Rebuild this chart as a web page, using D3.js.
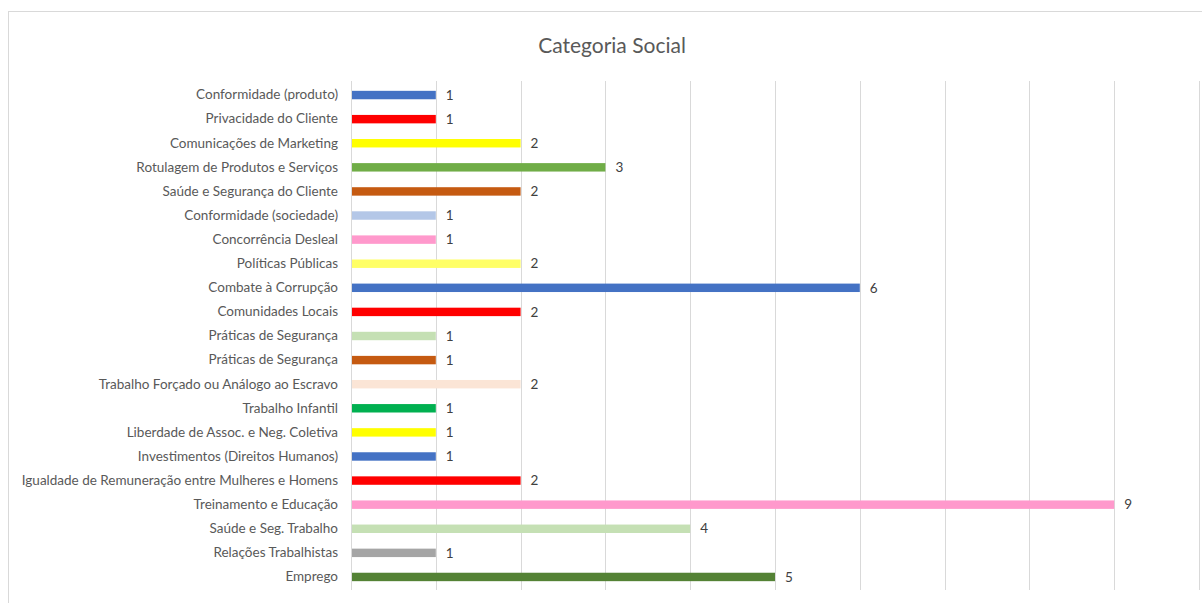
<!DOCTYPE html>
<html>
<head>
<meta charset="utf-8">
<script src="https://cdn.jsdelivr.net/npm/d3@7"></script>
<style>
  html, body { margin: 0; padding: 0; background: #fff; }
  svg { display: block; }
  text { font-family: Lato, "Open Sans", sans-serif; }
</style>
</head>
<body>
<svg id="chart" width="1202" height="603"></svg>
<script>
const categories = [
  "Conformidade (produto)",
  "Privacidade do Cliente",
  "Comunicações de Marketing",
  "Rotulagem de Produtos e Serviços",
  "Saúde e Segurança do Cliente",
  "Conformidade (sociedade)",
  "Concorrência Desleal",
  "Políticas Públicas",
  "Combate à Corrupção",
  "Comunidades Locais",
  "Práticas de Segurança",
  "Práticas de Segurança",
  "Trabalho Forçado ou Análogo ao Escravo",
  "Trabalho Infantil",
  "Liberdade de Assoc. e Neg. Coletiva",
  "Investimentos (Direitos Humanos)",
  "Igualdade de Remuneração entre Mulheres e Homens",
  "Treinamento e Educação",
  "Saúde e Seg. Trabalho",
  "Relações Trabalhistas",
  "Emprego"
];
const values = [1, 1, 2, 3, 2, 1, 1, 2, 6, 2, 1, 1, 2, 1, 1, 1, 2, 9, 4, 1, 5];
const barColors = [
  "#4472C4", "#FF0000", "#FFFF00", "#70AD47", "#C55A11", "#B4C7E7", "#FF99CC",
  "#FFFF66", "#4472C4", "#FF0000", "#C5E0B4", "#C55A11", "#FBE5D6", "#00B050",
  "#FFFF00", "#4472C4", "#FF0000", "#FF99CC", "#C5E0B4", "#A5A5A5", "#548235"
];
const xTicks = [0, 1, 2, 3, 4, 5, 6, 7, 8, 9, 10];
const chartTitle = "Categoria Social";

const svg = d3.select("#chart");
const pLeft = 351, pRight = 1199, pTop = 81, pBottom = 590;

svg.append("rect")
  .attr("x", 8.5).attr("y", 11.5)
  .attr("width", 1300).attr("height", 700)
  .attr("fill", "#fff").attr("stroke", "#d9d9d9").attr("stroke-width", 1);

svg.append("text")
  .attr("x", 612).attr("y", 53)
  .attr("text-anchor", "middle")
  .attr("font-size", 21)
  .attr("fill", "#595959")
  .text(chartTitle);

const idx = categories.map((d, i) => i);
const x = d3.scaleLinear().domain([0, 10]).range([pLeft, pRight]);
const y = d3.scaleBand().domain(idx).range([pTop + 2, pBottom - 1]).paddingInner(0.65).paddingOuter(0.325);

svg.append("g")
  .selectAll("line")
  .data(xTicks.slice(1))
  .join("line")
  .attr("x1", d => Math.round(x(d)) + 0.5)
  .attr("x2", d => Math.round(x(d)) + 0.5)
  .attr("y1", pTop).attr("y2", pBottom)
  .attr("stroke", "#d9d9d9").attr("stroke-width", 1);

svg.append("g")
  .selectAll("rect")
  .data(idx)
  .join("rect")
  .attr("x", x(0) + 1)
  .attr("y", i => y(i))
  .attr("width", i => x(values[i]) - x(0) - 1)
  .attr("height", y.bandwidth())
  .attr("fill", i => barColors[i]);

svg.append("line")
  .attr("x1", pLeft + 0.5).attr("x2", pLeft + 0.5)
  .attr("y1", pTop).attr("y2", pBottom)
  .attr("stroke", "#d9d9d9");

const yAxis = d3.axisLeft(y).tickSize(0).tickPadding(13).tickFormat(i => categories[i]);
const ga = svg.append("g").attr("transform", `translate(${pLeft},0)`).call(yAxis);
ga.select(".domain").remove();
ga.selectAll("text")
  .attr("font-size", 13.5)
  .attr("font-family", "Lato, sans-serif")
  .attr("fill", "#595959");

svg.append("g")
  .selectAll("text")
  .data(idx)
  .join("text")
  .attr("x", i => x(values[i]) + 10)
  .attr("y", i => y(i) + y.bandwidth() / 2)
  .attr("dy", "0.35em")
  .attr("font-size", 13.5)
  .attr("fill", "#404040")
  .text(i => values[i]);
</script>
</body>
</html>
